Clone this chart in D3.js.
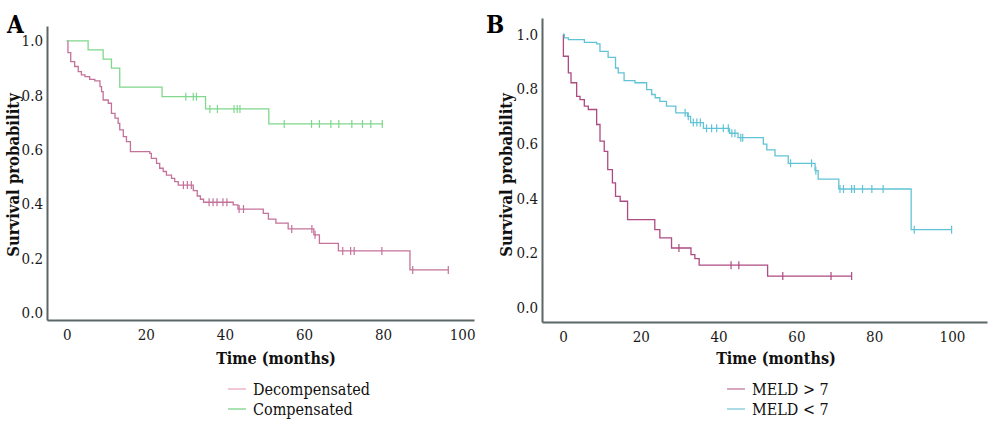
<!DOCTYPE html>
<html>
<head>
<meta charset="utf-8">
<script src="https://cdn.jsdelivr.net/npm/d3@7"></script>
<style>
  body { margin: 0; background: #fff; }
  text { font-family: "DejaVu Serif", serif; font-stretch: condensed; }
</style>
</head>
<body>
<div id="holder"></div>
<script>
const w = 1000;
const h = 436;

// DATA - survival steps [month, survival after drop], censored months
const yTicks = [0, 0.2, 0.4, 0.6, 0.8, 1.0];
const xTicks = [0, 20, 40, 60, 80, 100];

const decompSteps = [[0.3, 0.957], [1.0, 0.924], [2.0, 0.906], [2.9, 0.887], [3.7, 0.875], [4.6, 0.869],
  [5.8, 0.859], [7.1, 0.853], [8.4, 0.832], [8.8, 0.814], [9.2, 0.783], [10.5, 0.771], [11.3, 0.734],
  [12.2, 0.716], [13.0, 0.697], [13.4, 0.673], [14.3, 0.648], [15.1, 0.630], [16.1, 0.593], [21.0, 0.587],
  [21.4, 0.568], [22.7, 0.550], [23.5, 0.532], [24.4, 0.520], [25.2, 0.507], [26.5, 0.495], [27.3, 0.483],
  [28.2, 0.470], [32.0, 0.450], [33.0, 0.430], [33.8, 0.418], [34.6, 0.407], [42.1, 0.397], [43.3, 0.382],
  [49.7, 0.366], [51.0, 0.345], [52.9, 0.330], [56.0, 0.309], [62.5, 0.287], [63.9, 0.256], [68.7, 0.228],
  [86.8, 0.158]];
const decompCensor = [29.5, 30.5, 31.5, 36.0, 37.0, 38.0, 39.5, 40.5, 43.6, 44.7, 56.9, 62.0, 62.8,
  69.8, 71.8, 72.7, 79.7, 87.5, 96.5];

const compSteps = [[5.4, 0.967], [9.2, 0.933], [11.3, 0.900], [13.4, 0.830], [24.1, 0.795], [35.1, 0.750],
  [51.1, 0.695]];
const compCensor = [30.1, 32.0, 32.8, 36.2, 38.1, 42.3, 43.1, 43.8, 55.0, 61.9, 63.9, 66.8, 68.8, 72.1,
  74.8, 76.9, 79.8];

const meldHighSteps = [[0.1, 0.920], [1.37, 0.859], [2.06, 0.823], [3.51, 0.773], [4.37, 0.761], [5.48, 0.737],
  [6.5, 0.725], [8.65, 0.670], [9.51, 0.609], [10.6, 0.572], [11.5, 0.505], [12.7, 0.456], [13.5, 0.407],
  [14.7, 0.389], [16.6, 0.322], [23.6, 0.285], [24.9, 0.255], [27.9, 0.218], [32.9, 0.194], [33.9, 0.179],
  [35.0, 0.155], [52.6, 0.115]];
const meldHighCensor = [29.8, 43.2, 45.2, 56.5, 68.9, 74.2];

const meldLowSteps = [[0.35, 0.987], [1.37, 0.981], [5.5, 0.971], [8.65, 0.965], [9.5, 0.938], [11.6, 0.916],
  [13.5, 0.877], [14.2, 0.859], [15.7, 0.831], [18.5, 0.823], [21.5, 0.798], [22.8, 0.780], [23.7, 0.768],
  [24.9, 0.755], [26.6, 0.737], [29.0, 0.713], [32.0, 0.700], [32.8, 0.677], [36.1, 0.656], [42.8, 0.638],
  [45.0, 0.622], [51.5, 0.598], [52.4, 0.577], [54.5, 0.555], [57.9, 0.528], [64.8, 0.501], [65.6, 0.470],
  [70.9, 0.434], [89.5, 0.285]];
const meldLowCensor = [31.4, 32.2, 33.5, 34.4, 35.3, 36.9, 38.2, 39.5, 41.2, 42.5, 43.4, 44.2, 45.7, 46.2,
  58.5, 63.9, 65.0, 71.2, 72.1, 74.2, 74.9, 77.0, 79.4, 82.3, 90.3, 99.9];

// CREATE SVG
const svg = d3.select("#holder")
  .append("svg")
  .attr("width", w)
  .attr("height", h)

function survivalAt(steps, t) {
  let v = 1
  steps.forEach(s => { if (s[0] <= t) v = s[1] })
  return v
}

function drawPanel(p) {
  let xScale = d3.scaleLinear().domain(p.xDomain).range(p.xRange)
  let yScale = d3.scaleLinear().domain(p.yDomain).range(p.yRange)

  // Y AXIS
  let yAxis = d3.axisLeft(yScale)
    .tickValues(yTicks)
    .tickFormat(d3.format(".1f"))
    .tickSize(0)
    .tickSizeOuter(0)
    .tickPadding(4)

  let gy = svg.append("g")
    .attr("transform", "translate(" + p.xRange[0] + ",0)")
    .call(yAxis)

  // X AXIS
  let xAxis = d3.axisBottom(xScale)
    .tickValues(xTicks)
    .tickSize(0)
    .tickSizeOuter(0)
    .tickPadding(9)

  let gx = svg.append("g")
    .attr("transform", "translate(0," + p.yRange[0] + ")")
    .call(xAxis)

  ;[gx, gy].forEach(g => {
    g.select(".domain").attr("stroke", "#5b6666").attr("stroke-width", 2)
    g.selectAll("text").attr("font-size", 15).attr("fill", "#1a1a1a")
  })

  // CURVES
  let line = d3.line()
    .x(d => xScale(d[0]))
    .y(d => yScale(d[1]))
    .curve(d3.curveStepAfter)

  p.series.forEach(s => {
    let lastT = Math.max(s.steps[s.steps.length - 1][0], d3.max(s.censor))
    let pts = [[0, 1]].concat(s.steps)
    pts.push([lastT, s.steps[s.steps.length - 1][1]])

    svg.append("path")
      .datum(pts)
      .attr("d", line)
      .attr("fill", "none")
      .attr("stroke", s.color)
      .attr("stroke-width", 1.3)

    svg.selectAll(null)
      .data(s.censor)
      .enter()
      .append("line")
      .attr("x1", d => xScale(d))
      .attr("x2", d => xScale(d))
      .attr("y1", d => yScale(survivalAt(s.steps, d)) - 4)
      .attr("y2", d => yScale(survivalAt(s.steps, d)) + 4)
      .attr("stroke", s.color)
      .attr("stroke-width", 1.2)
  })

  // LABELS
  svg.append("text")
    .attr("x", p.letterX)
    .attr("y", 33)
    .attr("font-size", 24)
    .attr("font-weight", "bold")
    .text(p.letter)

  svg.append("text")
    .attr("transform", "translate(" + p.yTitleX + ",175) rotate(-90)")
    .attr("text-anchor", "middle")
    .attr("font-size", 16.5)
    .attr("font-weight", "bold")
    .attr("fill", "#111")
    .text("Survival probability")

  svg.append("text")
    .attr("x", p.xTitleX)
    .attr("y", 364)
    .attr("text-anchor", "middle")
    .attr("font-size", 16)
    .attr("font-weight", "bold")
    .attr("fill", "#111")
    .text("Time (months)")

  // LEGEND
  p.series.forEach((s, i) => {
    let ly = 389 + i * 20
    svg.append("line")
      .attr("x1", p.legendX)
      .attr("x2", p.legendX + 18)
      .attr("y1", ly)
      .attr("y2", ly)
      .attr("stroke", s.legendColor)
      .attr("stroke-width", 1.5)
    svg.append("text")
      .attr("x", p.legendX + 25)
      .attr("y", ly)
      .attr("dy", "0.35em")
      .attr("font-size", 16)
      .attr("fill", "#111")
      .text(s.name)
  })
}

drawPanel({
  letter: "A", letterX: 7, yTitleX: 19, xTitleX: 276, legendX: 228,
  xDomain: [-5, 103], xRange: [47, 474],
  yDomain: [-0.026, 1.055], yRange: [320, 26],
  series: [
    { name: "Decompensated", steps: decompSteps, censor: decompCensor, color: "#c4729a", legendColor: "#f0b4c6" },
    { name: "Compensated", steps: compSteps, censor: compCensor, color: "#7fd88c", legendColor: "#8fd99a" }
  ]
})

drawPanel({
  letter: "B", letterX: 486, yTitleX: 512, xTitleX: 776, legendX: 727,
  xDomain: [-5.4, 109], xRange: [542, 987],
  yDomain: [-0.053, 1.06], yRange: [322, 18],
  series: [
    { name: "MELD > 7", steps: meldHighSteps, censor: meldHighCensor, color: "#ad4b84", legendColor: "#c98aa8" },
    { name: "MELD < 7", steps: meldLowSteps, censor: meldLowCensor, color: "#62c3d6", legendColor: "#8fd0e0" }
  ]
})
</script>
</body>
</html>
